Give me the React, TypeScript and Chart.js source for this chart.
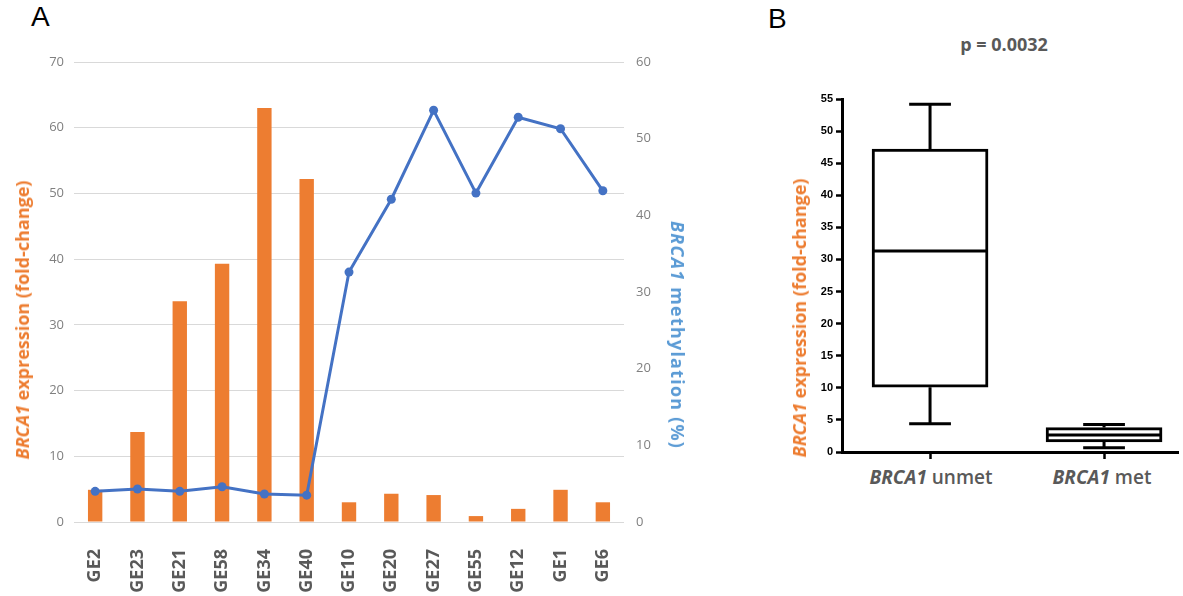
import React, { useEffect, useRef } from "react";
import { Chart, registerables } from "chart.js";

Chart.register(...registerables);

// ---- Panel A data ----
const samples = ["GE2", "GE23", "GE21", "GE58", "GE34", "GE40", "GE10", "GE20", "GE27", "GE55", "GE12", "GE1", "GE6"];
const expression = [4.9, 13.7, 33.6, 39.3, 63.0, 52.2, 3.0, 4.3, 4.1, 0.9, 2.0, 4.9, 3.0];
const methylation = [4.0, 4.3, 4.0, 4.6, 3.65, 3.5, 32.6, 42.1, 53.7, 42.9, 52.8, 51.3, 43.2];
const leftTicksMax = 70;
const rightTicksMax = 60;

// ---- Panel B data ----
const groups = ["unmet", "met"];
const groupPositions = [0, 1];
const boxMin = [4.4, 0.67];
const boxQ1 = [10.1, 1.56];
const boxMedian = [31.3, 2.65];
const boxQ3 = [47.2, 3.8];
const boxMax = [54.2, 4.3];
const bTicksMax = 55;

const ORANGE = "#ED7D31";
const BLUE_LINE = "#4472C4";
const BLUE_TITLE = "#5B9BD5";

function PanelA() {
  const ref = useRef<HTMLCanvasElement>(null);
  useEffect(() => {
    if (!ref.current) return;
    const chart = new Chart(ref.current, {
      type: "bar",
      data: {
        labels: samples,
        datasets: [
          {
            type: "line",
            label: "methylation",
            data: methylation,
            yAxisID: "y1",
            borderColor: BLUE_LINE,
            backgroundColor: BLUE_LINE,
            borderWidth: 3,
            pointRadius: 4.5,
            pointBorderWidth: 0,
            pointBackgroundColor: BLUE_LINE,
            tension: 0,
            order: 0,
          } as any,
          {
            type: "bar",
            label: "expression",
            data: expression,
            yAxisID: "y",
            backgroundColor: ORANGE,
            barPercentage: 0.34,
            categoryPercentage: 1,
            order: 1,
          },
        ],
      },
      options: {
        animation: false,
        responsive: false,
        maintainAspectRatio: false,
        layout: { padding: { left: 0, right: 0, top: 22, bottom: 0 } },
        plugins: { legend: { display: false }, tooltip: { enabled: false } },
        scales: {
          x: {
            grid: { display: false },
            border: { display: false },
            ticks: {
              color: "#595959",
              font: { family: "Open Sans", size: 18, weight: "bold" },
              maxRotation: 90,
              minRotation: 90,
              padding: 19,
              autoSkip: false,
            },
            afterFit: (s: any) => {
              s.height = 74;
            },
          },
          y: {
            position: "left",
            min: 0,
            max: leftTicksMax,
            ticks: {
              stepSize: 10,
              color: "#808080",
              font: { family: "Open Sans", size: 13 },
              padding: 10,
            },
            grid: { color: "#d9d9d9", drawTicks: false },
            border: { display: false },
            afterFit: (s: any) => {
              s.width = 74;
            },
          },
          y1: {
            position: "right",
            min: 0,
            max: rightTicksMax,
            ticks: {
              stepSize: 10,
              color: "#808080",
              font: { family: "Open Sans", size: 13 },
              padding: 12,
            },
            grid: { drawOnChartArea: false, drawTicks: false },
            border: { display: false },
            afterFit: (s: any) => {
              s.width = 76;
            },
          },
        },
      },
    });
    return () => chart.destroy();
  }, []);
  return (
    <canvas
      ref={ref}
      width={700}
      height={556}
      style={{ position: "absolute", left: 0, top: 40, width: 700, height: 556 }}
    />
  );
}

function PanelB() {
  const ref = useRef<HTMLCanvasElement>(null);
  useEffect(() => {
    if (!ref.current) return;
    const boxHalf = 0.333;
    const capHalf = 0.12;
    const segs: any[] = [];
    groupPositions.forEach((x, i) => {
      // upper whisker
      segs.push({ x, y: boxQ3[i] }, { x, y: boxMax[i] }, { x, y: null });
      segs.push({ x: x - capHalf, y: boxMax[i] }, { x: x + capHalf, y: boxMax[i] }, { x, y: null });
      // lower whisker
      segs.push({ x, y: boxQ1[i] }, { x, y: boxMin[i] }, { x, y: null });
      segs.push({ x: x - capHalf, y: boxMin[i] }, { x: x + capHalf, y: boxMin[i] }, { x, y: null });
      // median
      segs.push({ x: x - boxHalf, y: boxMedian[i] }, { x: x + boxHalf, y: boxMedian[i] }, { x, y: null });
    });
    const chart = new Chart(ref.current, {
      type: "bar",
      data: {
        datasets: [
          {
            type: "line",
            label: "whiskers",
            data: segs,
            borderColor: "#000",
            borderWidth: 3,
            pointRadius: 0,
            spanGaps: false,
            borderCapStyle: "butt",
            order: 0,
          } as any,
          {
            type: "bar",
            label: "box",
            data: groupPositions.map((x, i) => ({ x, y: [boxQ1[i], boxQ3[i]] })),
            backgroundColor: "#fff",
            borderColor: "#000",
            borderWidth: 3,
            borderSkipped: false,
            barThickness: 116,
            order: 1,
          } as any,
        ],
      },
      options: {
        animation: false,
        responsive: false,
        maintainAspectRatio: false,
        layout: { padding: { left: 0, right: 5, top: 19, bottom: 0 } },
        plugins: { legend: { display: false }, tooltip: { enabled: false } },
        scales: {
          x: {
            type: "linear",
            offset: false,
            min: -0.506,
            max: 1.425,
            afterBuildTicks: (s: any) => {
              s.ticks = groupPositions.map((v) => ({ value: v }));
            },
            ticks: { display: false },
            grid: {
              offset: false,
              drawOnChartArea: false,
              drawTicks: true,
              tickLength: 7,
              tickColor: "#000",
              tickWidth: 2.5,
            },
            border: { display: true, color: "#000", width: 3 },
            afterFit: (s: any) => {
              s.height = 10;
            },
          },
          y: {
            min: 0,
            max: bTicksMax,
            ticks: {
              stepSize: 5,
              color: "#000",
              font: { family: "Liberation Sans", size: 11, weight: "bold" },
              padding: 3,
            },
            grid: {
              drawOnChartArea: false,
              drawTicks: true,
              tickLength: 6,
              tickColor: "#000",
              tickWidth: 2.5,
            },
            border: { display: true, color: "#000", width: 3 },
            afterFit: (s: any) => {
              s.width = 62;
            },
          },
        },
      },
    });
    return () => chart.destroy();
  }, []);
  return (
    <canvas
      ref={ref}
      width={403}
      height={382}
      style={{ position: "absolute", left: 780, top: 80, width: 403, height: 382 }}
    />
  );
}

const rot = (x: number, y: number, deg: number): React.CSSProperties => ({
  position: "absolute",
  left: x,
  top: y,
  transform: `translate(-50%, -50%) rotate(${deg}deg)`,
  whiteSpace: "nowrap",
});

export default function App() {
  const titleFont: React.CSSProperties = {
    fontFamily: "'Open Sans'",
    fontWeight: 700,
    fontSize: 18,
    lineHeight: 1,
  };
  return (
    <div
      style={{
        position: "fixed",
        left: 0,
        top: 0,
        width: 1183,
        height: 596,
        background: "#fff",
        overflow: "hidden",
      }}
    >
      <PanelA />
      <PanelB />
      <div style={{ position: "absolute", left: 31, top: 1, fontFamily: "'Liberation Sans'", fontSize: 28, color: "#000" }}>A</div>
      <div style={{ position: "absolute", left: 768, top: 3, fontFamily: "'Liberation Sans'", fontSize: 28, color: "#000" }}>B</div>
      <div style={{ ...rot(22, 320, -90), ...titleFont, color: ORANGE }}>
        <i>BRCA1</i> expression (fold-change)
      </div>
      <div style={{ ...rot(678, 335, 90), ...titleFont, letterSpacing: 1.2, color: BLUE_TITLE }}>
        <i>BRCA1</i> methylation (%)
      </div>
      <div style={{ ...rot(799, 318, -90), ...titleFont, color: ORANGE }}>
        <i>BRCA1</i> expression (fold-change)
      </div>
      <div style={{ ...rot(1004, 44, 0), ...titleFont, fontSize: 18, color: "#595959" }}>p = 0.0032</div>
      <div style={{ ...rot(931, 477, 0), ...titleFont, fontSize: 19, fontWeight: 600, color: "#595959" }}>
        <i style={{ fontWeight: 700 }}>BRCA1</i> unmet
      </div>
      <div style={{ ...rot(1102, 477, 0), ...titleFont, fontSize: 19, fontWeight: 600, color: "#595959" }}>
        <i style={{ fontWeight: 700 }}>BRCA1</i> met
      </div>
    </div>
  );
}
